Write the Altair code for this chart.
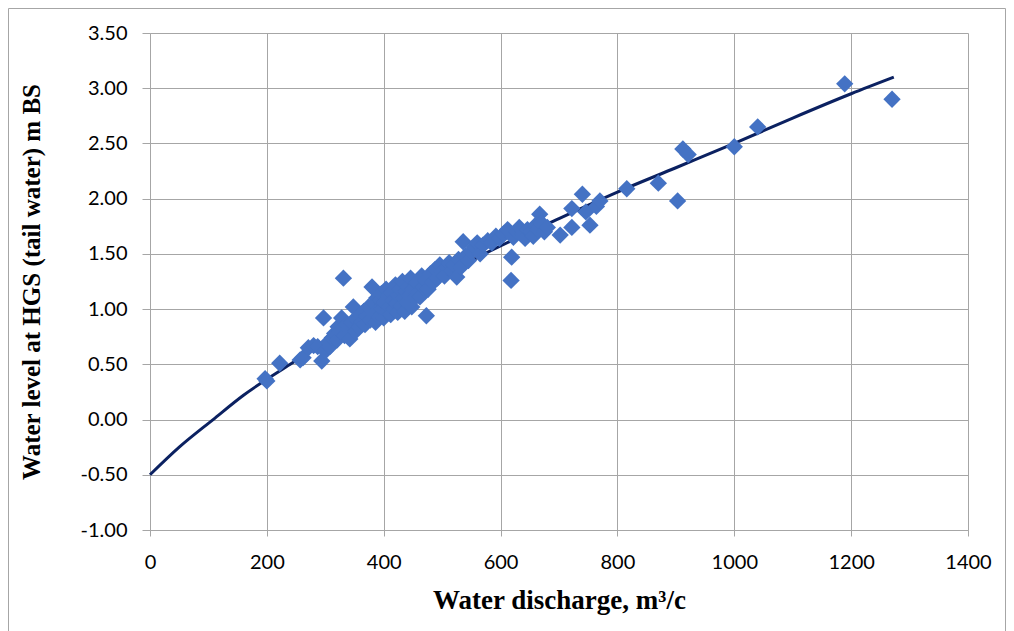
import altair as alt
import pandas as pd

discharge = [197, 200, 222, 257, 262, 271, 280, 287, 294, 297, 300, 305, 308, 312, 316, 320,
             322, 325, 328, 331, 333, 336, 340, 342, 345, 348, 352, 355, 358, 360, 363, 366,
             368, 371, 374, 377, 380, 382, 384, 386, 388, 390, 392, 394, 396, 398, 400, 402,
             404, 406, 408, 410, 412, 414, 416, 418, 420, 422, 424, 426, 428, 430, 432, 434,
             436, 438, 440, 442, 444, 446, 448, 450, 453, 456, 459, 462, 465, 468, 472, 473,
             476, 480, 484, 488, 492, 496, 500, 504, 508, 512, 516, 520, 525, 528, 532, 536,
             540, 545, 550, 555, 560, 565, 570, 578, 585, 592, 598, 605, 612, 618, 619, 622,
             628, 632, 638, 642, 646, 652, 656, 660, 664, 667, 670, 675, 680, 702, 722, 722,
             740, 746, 753, 764, 770, 816, 870, 903, 912, 921, 1000, 1040, 1189, 1270]
level = [0.37, 0.35, 0.51, 0.54, 0.56, 0.65, 0.67, 0.66, 0.53, 0.92, 0.62, 0.70, 0.66, 0.74, 0.78, 0.72,
         0.84, 0.80, 0.92, 1.28, 0.76, 0.86, 0.82, 0.73, 0.88, 1.02, 0.80, 0.90, 0.84, 0.95, 0.88, 0.98,
         0.86, 0.93, 1.02, 0.90, 1.20, 0.96, 1.05, 0.88, 1.10, 0.99, 0.93, 1.08, 1.14, 1.00, 0.92, 1.06,
         1.18, 0.97, 1.12, 1.02, 0.95, 1.15, 1.08, 1.00, 1.22, 1.05, 0.97, 1.12, 1.18, 1.03, 1.25, 1.10,
         0.98, 1.16, 1.06, 1.20, 1.12, 1.28, 1.02, 1.18, 1.10, 1.24, 1.15, 1.11, 1.30, 1.20, 1.26, 0.94,
         1.18, 1.32, 1.24, 1.36, 1.28, 1.40, 1.34, 1.30, 1.38, 1.42, 1.35, 1.40, 1.29, 1.45, 1.38, 1.61,
         1.48, 1.44, 1.52, 1.56, 1.60, 1.50, 1.58, 1.62, 1.60, 1.66, 1.64, 1.68, 1.72, 1.26, 1.47, 1.65,
         1.70, 1.74, 1.68, 1.64, 1.72, 1.70, 1.66, 1.76, 1.72, 1.86, 1.78, 1.70, 1.74, 1.67, 1.74, 1.91,
         2.04, 1.88, 1.76, 1.93, 1.98, 2.09, 2.14, 1.98, 2.45, 2.40, 2.47, 2.65, 3.04, 2.90]

# Trend line, points
trend_x = [0, 50, 108, 160, 240, 350, 459, 565, 700, 800, 900, 1000, 1100, 1200, 1273]
trend_y = [-0.50, -0.25, 0.00, 0.22, 0.50, 0.86, 1.18, 1.48, 1.82, 2.06, 2.28, 2.50, 2.73, 2.95, 3.10]

x_ticks = [0, 200, 400, 600, 800, 1000, 1200, 1400]
y_ticks = [-1.0, -0.5, 0.0, 0.5, 1.0, 1.5, 2.0, 2.5, 3.0, 3.5]

pts = pd.DataFrame({"q": discharge, "h": level})
trend = pd.DataFrame({"q": trend_x, "h": trend_y})

GRID = "#A6A6A6"
LABEL_FONT = "Lato"
TITLE_FONT = "Liberation Serif"

xscale = alt.Scale(domain=[0, 1400], nice=False, zero=False)
yscale = alt.Scale(domain=[-1.0, 3.5], nice=False, zero=False)

xaxis = alt.Axis(values=x_ticks, format="d", title="Water discharge, m³/c",
                 grid=True, gridColor=GRID, gridWidth=1,
                 domainColor=GRID, tickColor=GRID, tickSize=6,
                 labelFont=LABEL_FONT, labelFontSize=20, labelColor="#000000",
                 labelPadding=16, labelFlush=False,
                 titleFont=TITLE_FONT, titleFontSize=27, titleFontWeight="bold",
                 titleColor="#000000", titlePadding=15)
yaxis = alt.Axis(values=y_ticks, title="Water level at HGS (tail water) m BS",
                 labelExpr="replace(format(datum.value, '.2f'), '\u2212', '-')",
                 grid=True, gridColor=GRID, gridWidth=1,
                 domainColor=GRID, tickColor=GRID, tickSize=8,
                 labelFont=LABEL_FONT, labelFontSize=20, labelColor="#000000",
                 labelPadding=15, labelFlush=False,
                 titleFont=TITLE_FONT, titleFontSize=25, titleFontWeight="bold",
                 titleColor="#000000", titlePadding=36)

border = alt.Chart(pd.DataFrame({"a": [0]})).mark_rect(
    fill="transparent", stroke="#A6A6A6", strokeWidth=1
).encode(
    x=alt.value(-141.5), x2=alt.value(855.5), y=alt.value(-24.5), y2=alt.value(640)
)

line = alt.Chart(trend).mark_line(
    color="#0B2161", strokeWidth=3, interpolate="monotone"
).encode(
    x=alt.X("q:Q", scale=xscale, axis=xaxis),
    y=alt.Y("h:Q", scale=yscale, axis=yaxis),
)

points = alt.Chart(pts).mark_point(
    shape="diamond", filled=True, size=300, color="#4472C4", opacity=1
).encode(
    x=alt.X("q:Q", scale=xscale),
    y=alt.Y("h:Q", scale=yscale),
)

chart = alt.layer(border, line, points).properties(
    width=818, height=497,
    autosize=alt.AutoSizeParams(type="none"),
    padding={"left": 142, "top": 25, "right": 38, "bottom": 101},
).configure_view(stroke=None)

chart.save("out.html", embed_options={"renderer": "svg", "actions": False})
